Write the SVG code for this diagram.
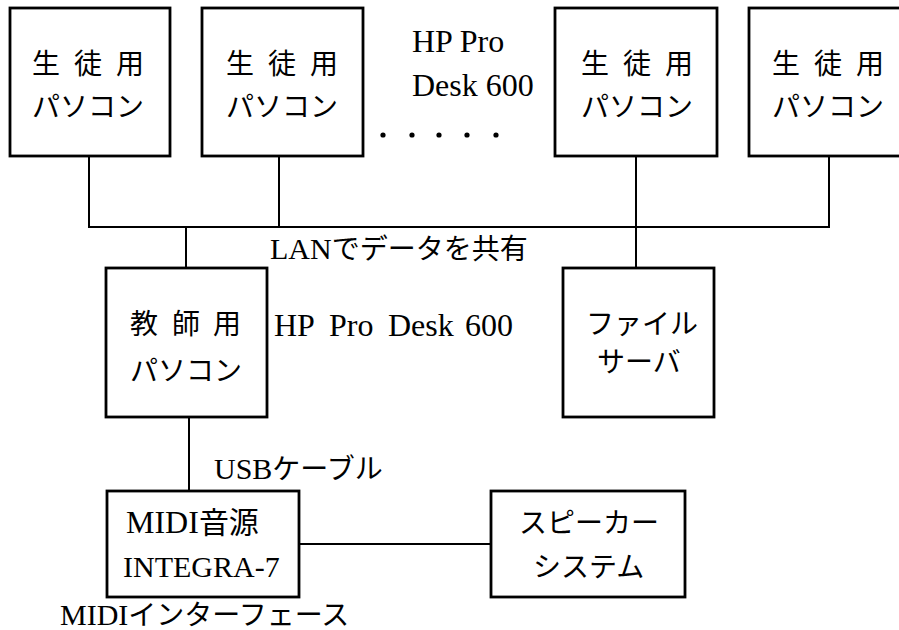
<svg xmlns="http://www.w3.org/2000/svg" width="899" height="630" viewBox="0 0 899 630">
<style>
.box{fill:#fff;stroke:#000;stroke-width:2.8}
.ln{fill:none;stroke:#000;stroke-width:2;stroke-linecap:square}
text{font-family:"Liberation Serif","Noto Sans CJK JP",serif;font-size:28px;fill:#000}
.lat{font-size:30px}
.big{font-size:32px}
</style>
<rect width="899" height="630" fill="#fff"/>
<g id="connectors">
<polyline class="ln" points="89,157 89,227 829,227 829,157"/>
<line class="ln" x1="279" y1="157" x2="279" y2="227"/>
<line class="ln" x1="636" y1="157" x2="636" y2="268"/>
<line class="ln" x1="186" y1="227" x2="186" y2="268"/>
<line class="ln" x1="189" y1="417" x2="189" y2="491"/>
<line class="ln" x1="299" y1="544" x2="491" y2="544"/>
</g>
<g id="student1">
<rect class="box" x="10" y="8" width="160" height="148"/>
<text x="32 74 116" y="74">生徒用</text>
<text x="32" y="117">パソコン</text>
</g>
<g id="student2">
<rect class="box" x="202" y="8" width="161" height="148"/>
<text x="226 268 310" y="74">生徒用</text>
<text x="226" y="117">パソコン</text>
</g>
<g id="student3">
<rect class="box" x="555" y="8" width="162" height="148"/>
<text x="581 623 665" y="74">生徒用</text>
<text x="581" y="117">パソコン</text>
</g>
<g id="student4">
<rect class="box" x="749" y="8" width="162" height="148"/>
<text x="772 814 856" y="74">生徒用</text>
<text x="772" y="117">パソコン</text>
</g>
<g id="model-label">
<text class="big" x="412" y="52">HP Pro</text>
<text class="big" x="412" y="96">Desk 600</text>
<g fill="#000">
<circle cx="383" cy="135" r="2.6"/>
<circle cx="412" cy="135" r="2.6"/>
<circle cx="439" cy="135" r="2.6"/>
<circle cx="467" cy="135" r="2.6"/>
<circle cx="496" cy="135" r="2.6"/>
</g>
</g>
<g id="lan-label">
<text x="270" y="259"><tspan class="lat">LAN</tspan>でデータを共有</text>
</g>
<g id="teacher">
<rect class="box" x="106" y="268" width="161" height="149"/>
<text x="130 172 213" y="334">教師用</text>
<text x="130" y="381">パソコン</text>
</g>
<g id="teacher-label">
<text class="big" y="336"><tspan x="274">HP</tspan><tspan x="329">Pro</tspan><tspan x="388">Desk</tspan><tspan x="465">600</tspan></text>
</g>
<g id="fileserver">
<rect class="box" x="563" y="268" width="151" height="149"/>
<text x="586" y="334">ファイル</text>
<text x="597" y="372">サーバ</text>
</g>
<g id="usb-label">
<text x="214" y="479"><tspan class="lat">USB</tspan>ケーブル</text>
</g>
<g id="midi">
<rect class="box" x="107" y="491" width="192" height="106"/>
<text x="126" y="533"><tspan class="big">MIDI</tspan><tspan font-size="30">音源</tspan></text>
<text class="lat" x="123" y="577">INTEGRA-7</text>
</g>
<g id="speaker">
<rect class="box" x="491" y="491" width="194" height="106"/>
<text x="519" y="533">スピーカー</text>
<text x="533" y="577">システム</text>
</g>
<g id="midi-if-label">
<text x="60" y="625"><tspan class="lat">MIDI</tspan>インターフェース</text>
</g>
</svg>
